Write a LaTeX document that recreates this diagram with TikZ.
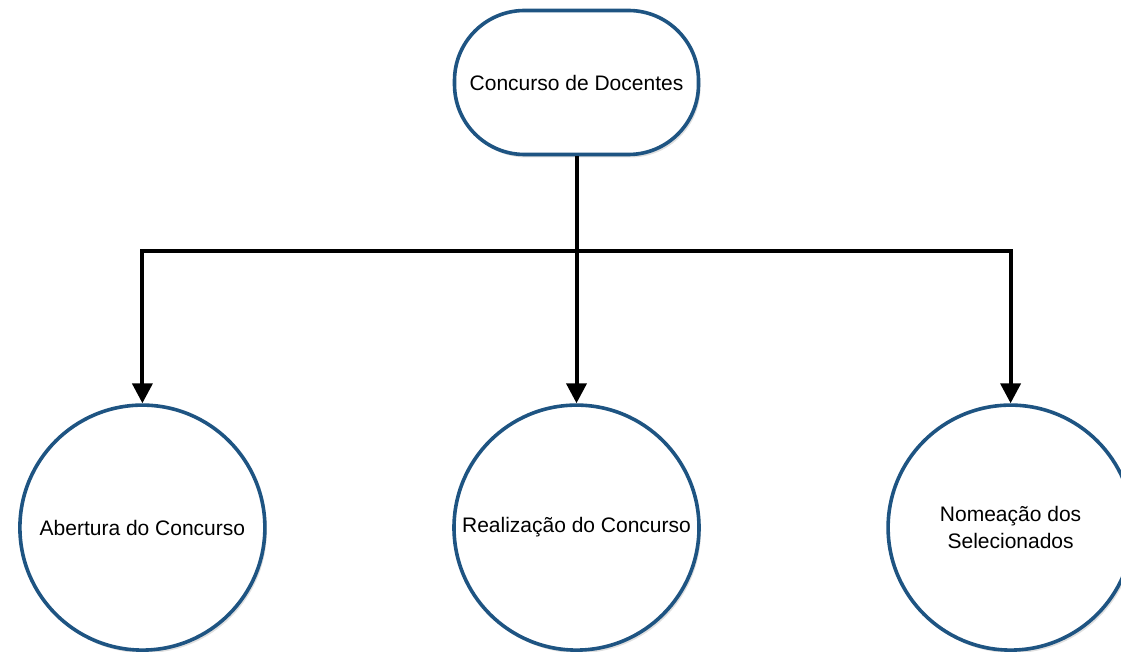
\documentclass[tikz,border=0pt]{standalone}
\usepackage{fontspec}
\setmainfont{Liberation Sans}
\usetikzlibrary{arrows.meta,positioning,shadows}
\definecolor{borderblue}{RGB}{30,84,130}

\begin{document}
\begin{tikzpicture}[
    x=1pt, y=-1pt,
    mybox/.style={
    rectangle,
    rounded corners=70pt,
    draw=borderblue,
    line width=3.6pt,
    fill=white,
    minimum width=244pt,
    minimum height=144pt,
    drop shadow={opacity=0.25, shadow xshift=2pt, shadow yshift=-3pt},
    font=\fontsize{21}{27}\selectfont},
    mycircle/.style={
    circle,
    draw=borderblue,
    line width=3.6pt,
    fill=white,
    inner sep=0pt,
    minimum size=245pt,
    align=center,
    drop shadow={opacity=0.25, shadow xshift=2pt, shadow yshift=-3pt},
    font=\fontsize{21}{27}\selectfont},
    myarrow/.style={-{Triangle[width=20pt,length=20pt]}, line width=4pt, black},
    node distance=185.5pt and 185.5pt
    ]
    \useasboundingbox (0,0) rectangle (1121,652);

    \node[mybox] (top) at (576.5,82.5) {Concurso de Docentes};
    \node[mycircle, below=247pt of top] (c2) {Realização do Concurso};
    \node[mycircle, left= of c2] (c1) {Abertura do Concurso};
    \node[mycircle, right= of c2] (c3) {Nomeação dos\\Selecionados};

    \coordinate (split) at (576.5,251);

    \draw[myarrow] (top.south) -- (c2.north);
    \draw[myarrow] (top.south) -- (split) -| (c1.north);
    \draw[myarrow] (top.south) -- (split) -| (c3.north);
\end{tikzpicture}
\end{document}
